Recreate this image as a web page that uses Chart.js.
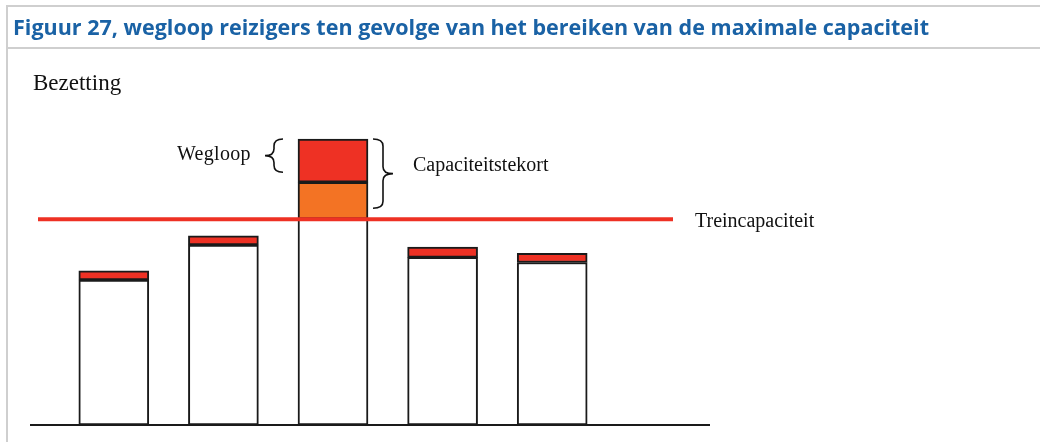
<!DOCTYPE html>
<html>
<head>
<meta charset="utf-8">
<script src="https://cdn.jsdelivr.net/npm/chart.js@4"></script>
<style>
  body { margin: 0; background: #fff; }
  canvas { display: block; }
</style>
</head>
<body>
<canvas id="wegloopChart" width="1040" height="442"></canvas>
<script>
// treinen (niet gelabeld in de figuur)
const treinen = ['T1', 'T2', 'T3', 'T4', 'T5'];
// bezetting tot aan de capaciteit, tekort en wegloop (relatieve eenheden)
const bezetting = [70.5, 87.5, 100, 81.5, 79];
const capaciteitstekort = [null, null, 18, null, null];
const wegloop = [4.5, 4.5, 21, 5, 4.5];
const treinCapaciteit = 100;
const yMax = 140;

const ROOD = '#EE3124';
const ORANJE = '#F37324';
const SERIF = '"Liberation Serif", "Times New Roman", serif';

function drawBrace(ctx, x, y1, y2, w) {
    // w > 0: punt naar rechts, w < 0: punt naar links
    const mid = (y1 + y2) / 2;
    const r = 7;
    const s = x + w / 2;
    ctx.beginPath();
    ctx.moveTo(x, y1);
    ctx.quadraticCurveTo(s, y1, s, y1 + r);
    ctx.lineTo(s, mid - r);
    ctx.quadraticCurveTo(s, mid, x + w, mid);
    ctx.quadraticCurveTo(s, mid, s, mid + r);
    ctx.lineTo(s, y2 - r);
    ctx.quadraticCurveTo(s, y2, x, y2);
    ctx.stroke();
}

const figuurPlugin = {
    id: 'figuur',
    beforeDraw(chart) {
        const ctx = chart.ctx;
        ctx.save();
        ctx.fillStyle = '#fff';
        ctx.fillRect(0, 0, chart.width, chart.height);

        // kader en kopregel
        ctx.fillStyle = '#cfcfcf';
        ctx.fillRect(6, 5, chart.width - 6, 2);
        ctx.fillRect(6, 47, chart.width - 6, 2);
        ctx.fillRect(6, 5, 2, chart.height - 5);

        const titel = 'Figuur 27, wegloop reizigers ten gevolge van het bereiken van de maximale capaciteit';
        ctx.font = 'bold 21px "Open Sans", sans-serif';
        const w = ctx.measureText(titel).width;
        ctx.translate(13, 35);
        ctx.scale(916 / w, 1);
        ctx.fillStyle = '#1A62A5';
        ctx.textBaseline = 'alphabetic';
        ctx.fillText(titel, 0, 0);
        ctx.restore();

        ctx.save();
        ctx.font = '23px ' + SERIF;
        ctx.fillStyle = '#111';
        ctx.fillText('Bezetting', 33, 90);
        ctx.restore();
    },
    afterDatasetsDraw(chart) {
        const ctx = chart.ctx;
        const area = chart.chartArea;
        const y = chart.scales.y;
        ctx.save();

        // basislijn
        ctx.strokeStyle = '#1a1a1a';
        ctx.lineWidth = 2;
        ctx.beginPath();
        ctx.moveTo(area.left - 29, y.getPixelForValue(0));
        ctx.lineTo(area.right + 103, y.getPixelForValue(0));
        ctx.stroke();

        // treincapaciteit
        const yc = y.getPixelForValue(treinCapaciteit);
        const lijnEind = area.right + 66;
        ctx.strokeStyle = ROOD;
        ctx.lineWidth = 4;
        ctx.beginPath();
        ctx.moveTo(area.left - 21, yc);
        ctx.lineTo(lijnEind, yc);
        ctx.stroke();

        ctx.fillStyle = '#111';
        ctx.font = '20px ' + SERIF;
        ctx.fillText('Treincapaciteit', lijnEind + 22, yc + 8);

        // accolades bij de overvolle trein
        const bar = chart.getDatasetMeta(2).data[2];
        const top = y.getPixelForValue(bezetting[2] + capaciteitstekort[2] + wegloop[2]);
        const grens = y.getPixelForValue(bezetting[2] + capaciteitstekort[2]);
        ctx.strokeStyle = '#111';
        ctx.lineWidth = 1.6;
        drawBrace(ctx, bar.x - bar.width / 2 - 15, top, grens - 10, -18);
        drawBrace(ctx, bar.x + bar.width / 2 + 5, top, yc - 11, 20);

        ctx.letterSpacing = '0.3px';
        ctx.fillText('Wegloop', bar.x - bar.width / 2 - 121, top + 21);
        ctx.letterSpacing = '0px';
        ctx.fillText('Capaciteitstekort', bar.x + bar.width / 2 + 45, top + 32);
        ctx.restore();
    }
};

const ctx = document.getElementById('wegloopChart').getContext('2d');
new Chart(ctx, {
    type: 'bar',
    data: {
        labels: treinen,
        datasets: [{
            label: 'Bezetting',
            data: bezetting,
            backgroundColor: '#fff',
            borderColor: '#1a1a1a',
            borderWidth: 2,
            borderSkipped: false
        }, {
            label: 'Capaciteitstekort',
            data: capaciteitstekort,
            backgroundColor: ORANJE,
            borderColor: '#1a1a1a',
            borderWidth: 2,
            borderSkipped: false
        }, {
            label: 'Wegloop',
            data: wegloop,
            backgroundColor: ROOD,
            borderColor: '#1a1a1a',
            borderWidth: 2,
            borderSkipped: false
        }]
    },
    options: {
        responsive: false,
        animation: false,
        barThickness: 70,
        layout: {
            padding: { left: 59, right: 433, top: 137, bottom: 17 }
        },
        plugins: {
            legend: { display: false },
            tooltip: { enabled: false }
        },
        scales: {
            x: { stacked: true, display: false },
            y: { stacked: true, display: false, min: 0, max: yMax }
        }
    },
    plugins: [figuurPlugin]
});
</script>
</body>
</html>
